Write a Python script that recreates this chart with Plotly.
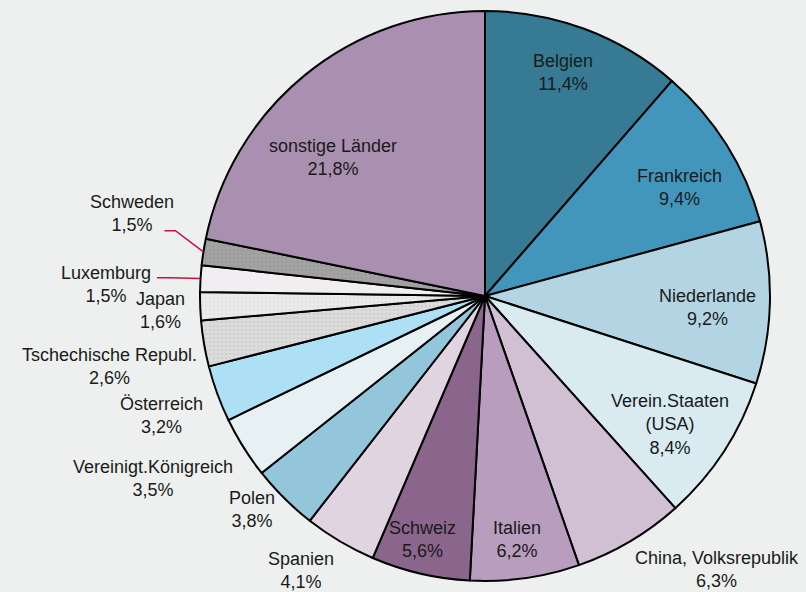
import math
import plotly.graph_objects as go

# ---- data ----
countries = ["Belgien", "Frankreich", "Niederlande", "Verein.Staaten<br>(USA)",
             "China, Volksrepublik", "Italien", "Schweiz", "Spanien", "Polen",
             "Vereinigt.Königreich", "Österreich", "Tschechische Republ.", "Japan",
             "Luxemburg", "Schweden", "sonstige Länder"]
shares = [11.4, 9.4, 9.2, 8.4, 6.3, 6.2, 5.6, 4.1, 3.8, 3.5, 3.2, 2.6, 1.6, 1.5, 1.5, 21.8]
share_labels = ["11,4%", "9,4%", "9,2%", "8,4%", "6,3%", "6,2%", "5,6%", "4,1%", "3,8%",
                "3,5%", "3,2%", "2,6%", "1,6%", "1,5%", "1,5%", "21,8%"]

# ---- styles ----
colors = ["#367a94", "#4396bb", "#b3d5e3", "#d9eaf1", "#d1bfd4", "#b99dbf", "#8a668c",
          "#e0d4e1", "#93c5db", "#e7f0f3", "#ade0f4", "#dcdcdc", "#ebebeb", "#f1edf1",
          "#a4a4a4", "#aa90b0"]
pattern_shapes = ["", "", "", "", "", "", "", "", "", "", "", ".", ".", "", "+", ""]
pattern_fg = ["#000"] * 11 + ["#c4c4c4", "#d6d6d6", "#000", "#8a8a8a", "#000"]
# label placement: (radius factor, angle offset in degrees)
label_pos = [(0.83, -1.3), (0.78, 3), (0.78, 1.6), (0.79, 1.8), (1.26, -9.7), (0.86, 0.7),
             (0.88, 1.2), (1.16, 3.2), (1.11, 2.7), (1.33, 3.4), (1.21, -0.2), (1.34, -1.0),
             (1.14, -0.5), (1.33, -1.7), (1.27, 4.2), (0.72, -8.4)]
leaders = {"Schweden": (1.11, 3.0, 11), "Luxemburg": (1.107, -0.2, 13)}

W, H = 806, 592
CX, CY, R = 485, 296, 285
BG = "#eef0ef"

fig = go.Figure(go.Pie(
    labels=countries, values=shares, sort=False, direction="clockwise", rotation=0,
    textinfo="none", hoverinfo="label+value",
    marker=dict(colors=colors, line=dict(color="#000000", width=2),
                pattern=dict(shape=pattern_shapes, fgcolor=pattern_fg, size=4,
                             solidity=0.3, fillmode="overlay")),
    domain=dict(x=[(CX - R) / W, (CX + R) / W], y=[(H - CY - R) / H, (H - CY + R) / H]),
    showlegend=False,
))

total = sum(shares)
cum = 0.0
annotations = []
shapes = []
def to_paper(px, py):
    return px / W, 1 - py / H

for name, v, lab, (k, dth) in zip(countries, shares, share_labels, label_pos):
    mid = (cum + v / 2) / total * 360
    cum += v
    a = math.radians(mid + dth)
    px = CX + k * R * math.sin(a)
    py = CY - k * R * math.cos(a)
    x, y = to_paper(px, py)
    annotations.append(dict(x=x, y=y, xref="paper", yref="paper", showarrow=False,
                            xanchor="center", yanchor="middle",
                            text=f"{name}<br>{lab}", align="center",
                            font=dict(family="Liberation Sans, Arial", size=18, color="#1a1a1a")))
    if name in leaders:
        ke, de, hl = leaders[name]
        am = math.radians(mid)
        ex, ey = CX + R * math.sin(am), CY - R * math.cos(am)
        ae = math.radians(mid + de)
        bx, by = CX + ke * R * math.sin(ae), CY - ke * R * math.cos(ae)
        cx_, cy_ = bx - hl, by
        pts = [to_paper(ex, ey), to_paper(bx, by), to_paper(cx_, cy_)]
        path = "M {} {} L {} {} L {} {}".format(*[c for p in pts for c in p])
        shapes.append(dict(type="path", xref="paper", yref="paper", path=path,
                           line=dict(color="#c0143c", width=1.5)))

fig.update_layout(width=W, height=H, margin=dict(l=0, r=0, t=0, b=0),
                  paper_bgcolor=BG, plot_bgcolor=BG,
                  annotations=annotations, shapes=shapes)
fig.write_html("out.html", config={"displayModeBar": False},
               post_script="document.body.style.margin='0px';")
